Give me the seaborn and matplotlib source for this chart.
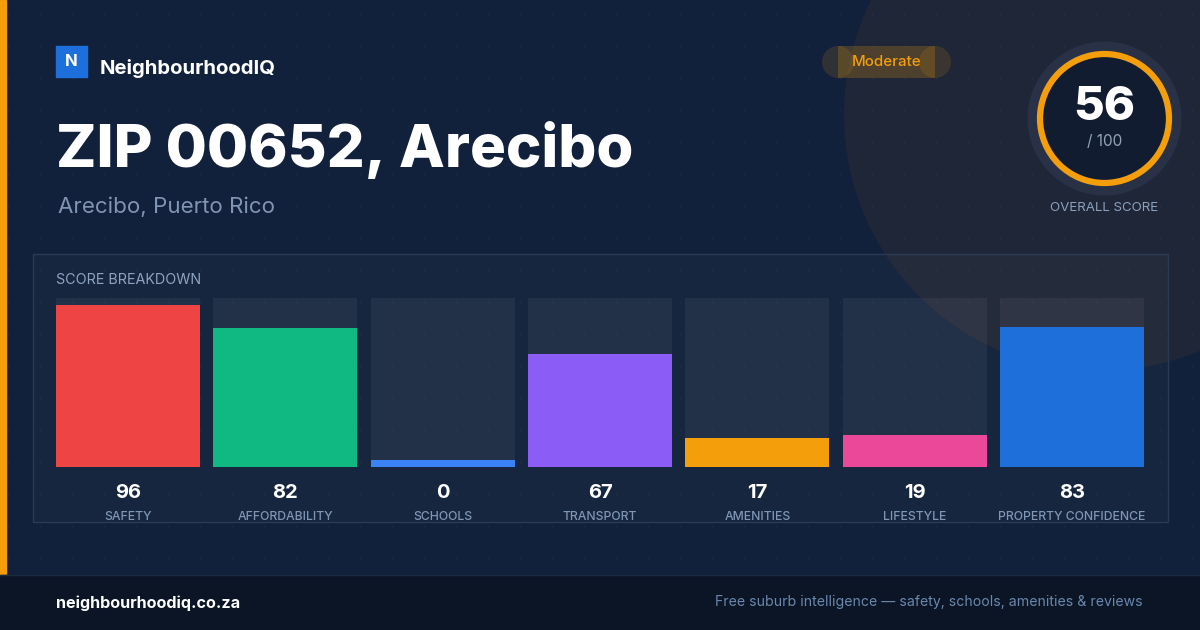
import numpy as np
import pandas as pd
import matplotlib
matplotlib.use("Agg")
import matplotlib.pyplot as plt
from matplotlib.patches import Rectangle, Circle
import seaborn as sns

# ---- data ----
categories = ["SAFETY", "AFFORDABILITY", "SCHOOLS", "TRANSPORT", "AMENITIES", "LIFESTYLE", "PROPERTY CONFIDENCE"]
scores = [96, 82, 0, 67, 17, 19, 83]
bar_colors = ["#ef4444", "#10b981", "#3b82f6", "#8b5cf6", "#f59e0b", "#ec4899", "#1e6fd9"]
overall_score = 56
overall_max = 100
rating = "Moderate"
brand = "NeighbourhoodIQ"
title = "ZIP 00652, Arecibo"
subtitle = "Arecibo, Puerto Rico"
footer_left = "neighbourhoodiq.co.za"
footer_right = "Free suburb intelligence \u2014 safety, schools, amenities & reviews"

sns.set_theme(style="white")
plt.rcParams["font.family"] = ["Inter", "DejaVu Sans"]

W, H = 1200, 630
BG = "#12213b"
fig = plt.figure(figsize=(12, 6.3), dpi=100, facecolor=BG)

# full-canvas decoration axes in pixel coords
bg = fig.add_axes([0, 0, 1, 1])
bg.set_xlim(0, W)
bg.set_ylim(H, 0)
bg.axis("off")
bg.add_patch(Rectangle((0, 0), W, H, color=BG, zorder=0))

# big decorative circle
bg.add_patch(Circle((1100, 115), 256, color="#1f2637", linewidth=0, zorder=1))

# dot grid
gx, gy = np.meshgrid(np.arange(8, W, 32), np.arange(14, 575, 32))
bg.scatter(gx.ravel(), gy.ravel(), s=1.2, color="#ffffff", alpha=0.05, linewidths=0, zorder=1.5)

# left accent stripe
bg.add_patch(Rectangle((0, 0), 6, 575, color="#f59e0b", zorder=2))

# footer
bg.add_patch(Rectangle((0, 575), W, 55, color="#0b1526", zorder=2))
bg.plot([0, W], [575, 575], color="#1c2a42", lw=1, zorder=3)
bg.text(56, 603, footer_left, color="white", fontsize=11.6, fontweight="bold", va="center", ha="left", zorder=4)
bg.text(1143, 602, footer_right, color="#6b87ad", fontsize=10.15, va="center", ha="right", zorder=4)

# logo
bg.add_patch(Rectangle((56, 46), 31, 31, color="#1d6fdc", zorder=3))
bg.text(71.5, 61.5, "N", color="white", fontsize=12, fontweight="bold", ha="center", va="center", zorder=4)
bg.text(100, 68, brand, color="white", fontsize=14.6, fontweight="bold", ha="left", va="center", zorder=4)

# title & subtitle
bg.text(56, 167, title, color="white", fontsize=43, fontweight="heavy", ha="left", va="baseline", zorder=4)
bg.text(58, 207, subtitle, color="#7f95b3", fontsize=16.1, ha="left", va="center", zorder=4)

# badge (pill body + end caps)
bg.add_patch(Rectangle((838, 46), 97, 32, facecolor="#f59e0b", alpha=0.22, linewidth=0, zorder=3))
for ex in (838, 935):
    bg.add_patch(Circle((ex, 62), 16, facecolor="#f59e0b", alpha=0.13, linewidth=0, zorder=3))
bg.text(886.5, 62, rating, color="#f59e0b", fontsize=10.8, fontweight="medium", ha="center", va="center", zorder=4)

# gauge
cx, cy = 1104.5, 118.5
bg.add_patch(Circle((cx, cy), 77, color="#283145", linewidth=0, zorder=3))
bg.add_patch(Circle((cx, cy), 64.5, facecolor="#111c30", edgecolor="#f59e0b", linewidth=4.5, zorder=4))
bg.text(cx, 108, str(overall_score), color="white", fontsize=34, fontweight="heavy", ha="center", va="center", zorder=5)
bg.text(cx, 142, f"/ {overall_max}", color="#94a3b8", fontsize=11, ha="center", va="center", zorder=5)
bg.text(cx, 208, "OVERALL SCORE", color="#8ba0bd", fontsize=9.6, ha="center", va="center", zorder=5)

# breakdown panel
bg.add_patch(Rectangle((33, 254), 1135, 268, facecolor="#ffffff", alpha=0.025, linewidth=0, zorder=2))
bg.add_patch(Rectangle((33, 254), 1135, 268, facecolor="none", edgecolor="#2a3a55", linewidth=1, zorder=2))
bg.text(56, 280, "SCORE BREAKDOWN", color="#8ea3bf", fontsize=10.3, ha="left", va="center", zorder=4)

# bars via seaborn
x0, x1, ytop, ybot = 56, 1144, 298, 467
ax = fig.add_axes([x0 / W, (H - ybot) / H, (x1 - x0) / W, (ybot - ytop) / H])
ax.patch.set_alpha(0)
df = pd.DataFrame({"category": categories, "score": scores,
                   "display": np.maximum(np.array(scores, dtype=float), 4), "track": 100})
width = 0.915
sns.barplot(data=df, x="category", y="track", color="#ffffff", alpha=0.05, width=width, ax=ax,
            saturation=1, linewidth=0)
sns.barplot(data=df, x="category", y="display", hue="category", palette=bar_colors,
            width=width, ax=ax, saturation=1, linewidth=0, legend=False, dodge=False)
ax.set_xlim(-width / 2, len(categories) - 1 + width / 2)
ax.set_ylim(0, 100)
ax.axis("off")

# value & label text under bars
for i, (c, v) in enumerate(zip(categories, scores)):
    ax.text(i, -15.1, str(v), color="white", fontsize=14.5, fontweight="bold",
            ha="center", va="center", clip_on=False)
    ax.text(i, -29.4, c, color="#7f96b5", fontsize=8.8, fontweight="medium", ha="center", va="center",
            clip_on=False)

fig.savefig("out.png", dpi=100, facecolor=BG)
